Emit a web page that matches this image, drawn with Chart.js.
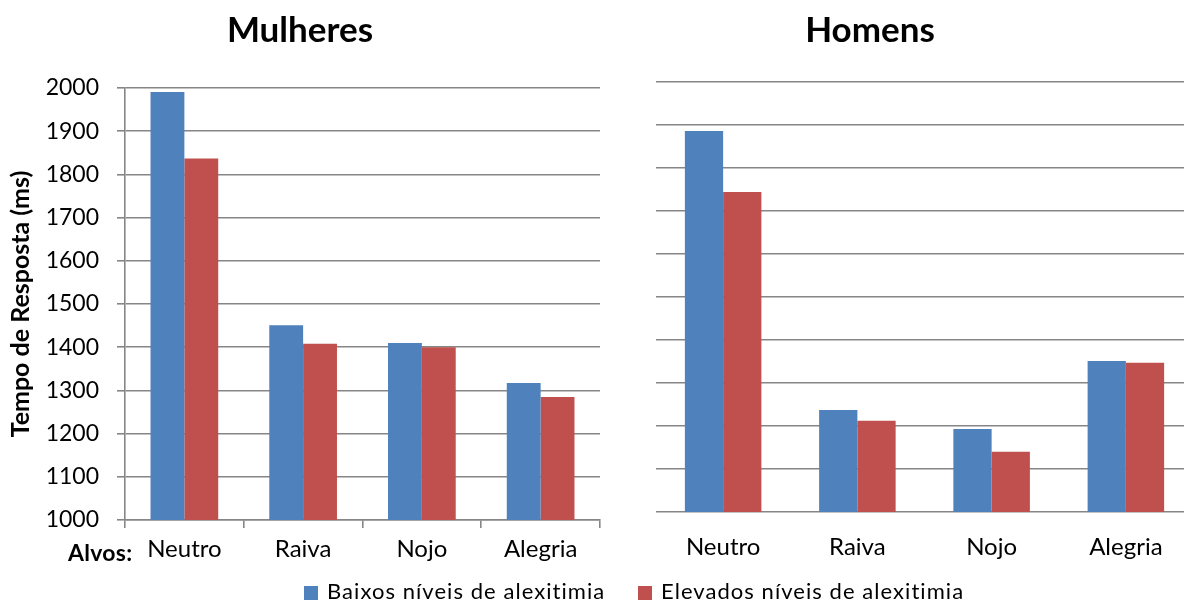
<!DOCTYPE html>
<html>
<head>
<meta charset="utf-8">
<script src="https://cdn.jsdelivr.net/npm/chart.js@4/dist/chart.umd.min.js"></script>
<style>
  html, body { margin: 0; padding: 0; background: #fff; overflow: hidden; }
  body { width: 1184px; height: 602px; position: relative; font-family: Lato, sans-serif; color: #000; }
  .box { position: absolute; }
  .title { position: absolute; top: 7px; font-weight: bold; font-size: 35px; line-height: 42px; text-align: center; }
  .alvos { position: absolute; left: 68px; top: 538px; font-weight: bold; font-size: 23px; line-height: 28px; letter-spacing: 0.3px; }
  .legend { position: absolute; top: 578px; font-size: 22px; line-height: 26px; white-space: nowrap; letter-spacing: 1.05px; }
  .legend i { display: inline-block; width: 14px; height: 14px; margin-right: 9px; vertical-align: -1px; }
</style>
</head>
<body>
<div class="box" style="left:0;top:0;width:620px;height:602px;"><canvas id="mulheres"></canvas></div>
<div class="box" style="left:600px;top:0;width:600px;height:602px;"><canvas id="homens"></canvas></div>

<div class="title" style="left:200px;width:200px;">Mulheres</div>
<div class="title" style="left:770px;width:200px;">Homens</div>
<div class="alvos">Alvos:</div>
<div class="legend" style="left:304px;"><i style="background:#4F81BD"></i>Baixos níveis de alexitimia</div>
<div class="legend" style="left:638px;"><i style="background:#C0504D"></i>Elevados níveis de alexitimia</div>

<script>
const alvos = ['Neutro', 'Raiva', 'Nojo', 'Alegria'];
const mulheresBaixos = [1991, 1451, 1410, 1317];
const mulheresElevados = [1837, 1408, 1400, 1285];
const homensBaixos = [1886, 1237, 1193, 1351];
const homensElevados = [1744, 1212, 1140, 1347];
const yTicks = [1000, 1100, 1200, 1300, 1400, 1500, 1600, 1700, 1800, 1900, 2000];

const azul = '#4F81BD';
const vermelho = '#C0504D';
const grade = '#868686';
const fonte = 'Lato, sans-serif';

function datasets(baixos, elevados) {
  return [
    { label: 'Baixos níveis de alexitimia', data: baixos, backgroundColor: azul,
      categoryPercentage: 0.57, barPercentage: 1.0 },
    { label: 'Elevados níveis de alexitimia', data: elevados, backgroundColor: vermelho,
      categoryPercentage: 0.57, barPercentage: 1.0 }
  ];
}

// Mulheres: y axis with labels and title, tick marks on the category axis
new Chart(document.getElementById('mulheres'), {
  type: 'bar',
  data: { labels: alvos, datasets: datasets(mulheresBaixos, mulheresElevados) },
  options: {
    responsive: true,
    maintainAspectRatio: false,
    animation: false,
    layout: { padding: { top: 88, right: 20, left: 0, bottom: 0 } },
    plugins: { legend: { display: false }, tooltip: { enabled: false } },
    scales: {
      x: {
        afterFit: (scale) => { scale.height = 82; },
        grid: { display: true, drawOnChartArea: false, drawTicks: true, tickLength: 8,
                color: grade, lineWidth: 1.6, offset: true },
        border: { display: true, color: grade, width: 1.6 },
        ticks: { font: { family: fonte, size: 24 }, color: '#000', padding: 7 }
      },
      y: {
        min: 1000,
        max: 2000,
        afterFit: (scale) => { scale.width = 125; },
        afterBuildTicks: (scale) => { scale.ticks = yTicks.map(v => ({ value: v })); },
        grid: { color: grade, lineWidth: 1.6, tickLength: 8 },
        border: { display: true, color: grade, width: 1.6 },
        ticks: { font: { family: fonte, size: 23 }, color: '#000', padding: 18,
                 callback: (v) => String(v) },
        title: {
          display: true,
          text: 'Tempo de Resposta (ms)',
          font: { family: fonte, size: 25, weight: 'bold' },
          color: '#000',
          padding: { top: 6, bottom: 0 }
        }
      }
    }
  }
});

// Homens: same scale, gridlines only
new Chart(document.getElementById('homens'), {
  type: 'bar',
  data: { labels: alvos, datasets: datasets(homensBaixos, homensElevados) },
  options: {
    responsive: true,
    maintainAspectRatio: false,
    animation: false,
    layout: { padding: { top: 82, right: 7, left: 0, bottom: 0 } },
    plugins: { legend: { display: false }, tooltip: { enabled: false } },
    scales: {
      x: {
        afterFit: (scale) => { scale.height = 90; },
        grid: { display: false },
        border: { display: false },
        ticks: { font: { family: fonte, size: 24 }, color: '#000', padding: 13 }
      },
      y: {
        min: 1000,
        max: 2000,
        afterFit: (scale) => { scale.width = 56; },
        afterBuildTicks: (scale) => { scale.ticks = yTicks.map(v => ({ value: v })); },
        grid: { color: grade, lineWidth: 1.6, drawTicks: false },
        border: { display: false },
        ticks: { display: false }
      }
    }
  }
});
</script>
</body>
</html>
